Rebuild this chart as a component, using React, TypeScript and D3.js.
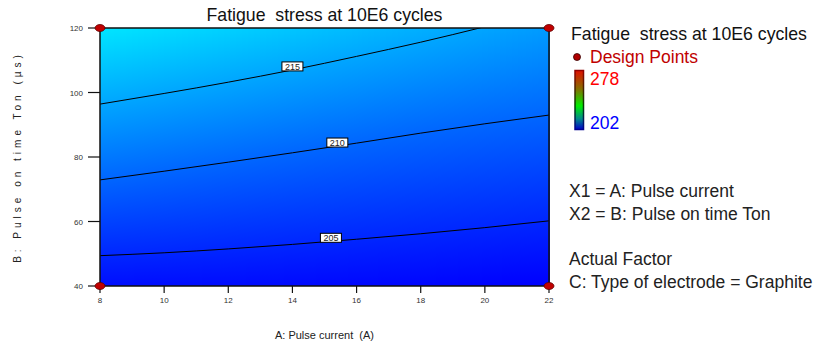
import React from 'react';
import * as d3 from 'd3';

// ---- data ----
const aGrid = [8, 10, 12, 14, 16, 18, 20, 22];
const b205 = [49.4, 50.3, 51.5, 52.9, 54.5, 56.2, 58.1, 60.2];
const b210 = [72.9, 75.6, 78.4, 81.3, 84.3, 87.4, 90.3, 93.0];
const b215 = [96.4, 99.7, 103.2, 107.0, 111.2, 115.6, 120.4, 125.5];
const contourLevels = [205, 210, 215];
const contourLabelA = [15.2, 15.4, 14.0];
const xTicks = [8, 10, 12, 14, 16, 18, 20, 22];
const yTicks = [40, 60, 80, 100, 120];
const designA = [8, 8, 22, 22];
const designB = [40, 120, 40, 120];
const colorDomain = [202, 222, 240, 259, 278];
const colorRange = ['#0000ff', '#00ffff', '#00ff00', '#ffff00', '#ff0000'];
const legendRange = [202, 278];
const legendLines = ['X1 = A: Pulse current', 'X2 = B: Pulse on time Ton', '', 'Actual Factor', 'C: Type of electrode = Graphite'];

const FONT = "'Liberation Sans', Arial, Helvetica, sans-serif";

export default function App() {
  const W = 816, H = 346;
  const L = 100, R = 549, T = 28, B = 286;
  const x = d3.scaleLinear().domain([8, 22]).range([L, R]);
  const y = d3.scaleLinear().domain([40, 120]).range([B, T]);
  const color = d3.scaleLinear<string>().domain(colorDomain).range(colorRange).interpolate(d3.interpolateRgb);

  const contourB = [b205, b210, b215];
  const interps = contourB.map(arr => d3.scaleLinear().domain(aGrid).range(arr));

  // vertical strips with gradients driven by the contour positions
  const step = 2;
  const strips: { x0: number; id: string; stops: { off: number; col: string }[] }[] = [];
  for (let px = L, i = 0; px < R; px += step, i++) {
    const A = x.invert(Math.min(px + step / 2, R));
    const ys = interps.map(f => y(f(A)));
    const vOfY = d3.scaleLinear().domain([ys[2], ys[1], ys[0]]).range([contourLevels[2], contourLevels[1], contourLevels[0]]);
    const pts = [T, ...ys.filter(v => v > T && v < B).sort((a, b) => a - b), B];
    strips.push({
      x0: px,
      id: 'g' + i,
      stops: pts.map(p => ({ off: (p - T) / (B - T), col: color(vOfY(p)) })),
    });
  }

  const line = d3.line<number>().x((_, i) => x(aGrid[i])).y(d => y(d)).curve(d3.curveMonotoneX);

  return (
    <svg width={W} height={H} style={{ position: 'absolute', left: 0, top: 0, background: '#fff' }} fontFamily={FONT}>
      <defs>
        {strips.map(s => (
          <linearGradient key={s.id} id={s.id} gradientUnits="userSpaceOnUse" x1={0} x2={0} y1={T} y2={B}>
            {s.stops.map((st, j) => <stop key={j} offset={st.off} stopColor={st.col} />)}
          </linearGradient>
        ))}
        <clipPath id="plotClip"><rect x={L} y={T} width={R - L} height={B - T} /></clipPath>
        <linearGradient id="cbar" x1={0} x2={0} y1={0} y2={1}>
          <stop offset={0} stopColor="#e01000" />
          <stop offset={0.3} stopColor="#8a6a00" />
          <stop offset={0.6} stopColor="#00ee00" />
          <stop offset={0.82} stopColor="#008a8a" />
          <stop offset={1} stopColor="#0000c8" />
        </linearGradient>
        <linearGradient id="cbarStroke" x1={0} x2={0} y1={0} y2={1}>
          <stop offset={0} stopColor="#900000" />
          <stop offset={0.6} stopColor="#004000" />
          <stop offset={1} stopColor="#000090" />
        </linearGradient>
      </defs>

      {/* title */}
      <text x={(L + R) / 2} y={21} textAnchor="middle" fontSize={17.7} fill="#111" style={{ whiteSpace: 'pre' }}>Fatigue  stress at 10E6 cycles</text>

      {/* surface */}
      <g shapeRendering="crispEdges">
        {strips.map(s => (
          <rect key={s.id} x={s.x0} y={T} width={Math.min(step, R - s.x0) + 0.5} height={B - T} fill={`url(#${s.id})`} />
        ))}
      </g>

      {/* contours */}
      <g clipPath="url(#plotClip)">
        {contourB.map((arr, k) => (
          <path key={k} d={line(arr) || ''} fill="none" stroke="#000" strokeWidth={1} />
        ))}
      </g>
      {contourLevels.map((lv, k) => {
        const cx = x(contourLabelA[k]);
        const cy = y(interps[k](contourLabelA[k])) - 3.5;
        return (
          <g key={lv}>
            <rect x={cx - 10.5} y={cy - 4.5} width={21} height={9} fill="#fff" stroke="#000" strokeWidth={1} />
            <text x={cx} y={cy + 3.2} textAnchor="middle" fontSize={9} fill="#222">{lv}</text>
          </g>
        );
      })}

      {/* frame */}
      <rect x={L} y={T} width={R - L} height={B - T} fill="none" stroke="#111" strokeWidth={1.5} />

      {/* y axis */}
      {yTicks.map(t => (
        <g key={t}>
          <line x1={L - 12} x2={L} y1={y(t)} y2={y(t)} stroke="#111" strokeWidth={1.2} />
          <text x={L - 17} y={y(t) + 3} textAnchor="end" fontSize={8} fill="#333">{t}</text>
        </g>
      ))}
      {/* x axis */}
      {xTicks.map(t => (
        <g key={t}>
          <line x1={x(t)} x2={x(t)} y1={B} y2={B + 7} stroke="#111" strokeWidth={1.2} />
          <text x={x(t)} y={B + 17} textAnchor="middle" fontSize={8} fill="#333">{t}</text>
        </g>
      ))}
      <text x={(L + R) / 2} y={339} textAnchor="middle" fontSize={11} fill="#222" style={{ whiteSpace: 'pre' }}>A: Pulse current  (A)</text>
      <text transform={`translate(21,${(T + B) / 2}) rotate(-90)`} textAnchor="middle" fontSize={10} fill="#222" letterSpacing={4}>B: Pulse on time Ton (µs)</text>

      {/* design points */}
      {designA.map((a, i) => (
        <ellipse key={i} cx={x(a)} cy={y(designB[i])} rx={5} ry={3.5} fill="#c00000" stroke="#600000" strokeWidth={0.8} />
      ))}

      {/* legend */}
      <text x={571} y={40} fontSize={17.7} fill="#111" style={{ whiteSpace: 'pre' }}>Fatigue  stress at 10E6 cycles</text>
      <circle cx={577} cy={57} r={3.5} fill="#b00000" stroke="#300" strokeWidth={0.8} />
      <text x={590} y={63} fontSize={17.5} fill="#c00000">Design Points</text>
      <rect x={575} y={70.5} width={8.5} height={59} fill="url(#cbar)" stroke="url(#cbarStroke)" strokeWidth={1.5} />
      <text x={590} y={85} fontSize={17.5} fill="#ff0000">{legendRange[1]}</text>
      <text x={590} y={129} fontSize={17.5} fill="#0000ff">{legendRange[0]}</text>
      {legendLines.map((t, i) => (
        <text key={i} x={569} y={197 + i * 22.7} fontSize={17.5} fill="#222">{t}</text>
      ))}
    </svg>
  );
}
